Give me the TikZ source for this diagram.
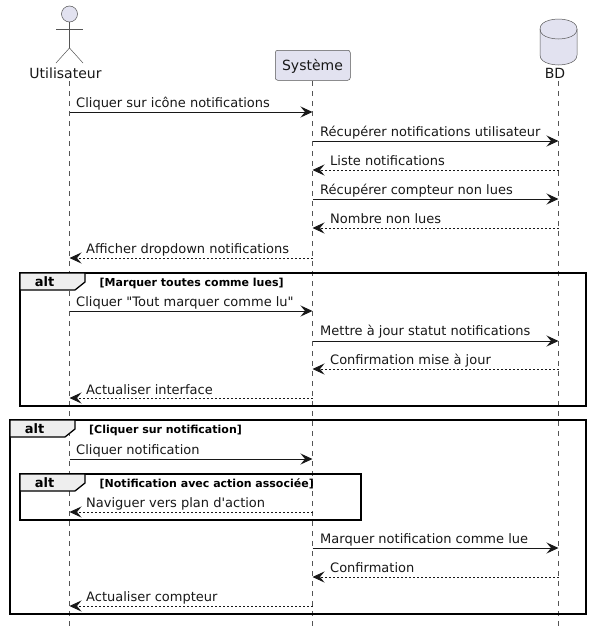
\documentclass[tikz,border=0pt]{standalone}
\usepackage{fontspec}
\setmainfont[Ligatures=TeXOff]{DejaVu Sans}
\usetikzlibrary{arrows.meta,calc}
\definecolor{part}{HTML}{E2E2F0}
\definecolor{ink}{HTML}{181818}
\definecolor{soft}{HTML}{555555}
\definecolor{tab}{HTML}{EEEEEE}
\tikzset{
  x=1pt,y=-1pt,
  partline/.style={draw=soft,line width=0.5pt,fill=part},
  actorline/.style={draw=soft,line width=0.5pt},
  lifeline/.style={draw=soft,line width=0.5pt,dash pattern=on 5pt off 5pt},
  solidmsg/.style={draw=ink,line width=1pt,-{Stealth[length=12pt,width=11pt,inset=4.5pt]}},
  dashmsg/.style={draw=ink,line width=0.8pt,dash pattern=on 2pt off 2pt,-{Stealth[length=12pt,width=11pt,inset=4.5pt]}},
  msgtext/.style={font=\fontsize{13}{15}\selectfont,text=ink,inner sep=0pt,anchor=base west},
  parttext/.style={font=\fontsize{14}{16}\selectfont,text=ink,inner sep=0pt,anchor=base},
  framebox/.style={draw=black,line width=1.5pt},
  tabbox/.style={draw=black,line width=1.3pt,fill=tab},
  alttext/.style={font=\fontsize{13}{15}\selectfont\bfseries,text=black,inner sep=0pt,anchor=base},
  condtext/.style={font=\fontsize{11}{13}\selectfont\bfseries,text=black,inner sep=0pt,anchor=base west},
}
\begin{document}
\begin{tikzpicture}
\useasboundingbox (0,0) rectangle (592,637);
\fill[white] (0,0) rectangle (592,637);
% lifeline ends
\coordinate (uT) at (69.5,81); \coordinate (uB) at (69.5,627);
\coordinate (sT) at (312.5,81); \coordinate (sB) at (312.5,627);
\coordinate (dT) at (558.5,81); \coordinate (dB) at (558.5,627);
\draw[lifeline] (uT) -- (uB);
\draw[lifeline] (sT) -- (sB);
\draw[lifeline] (dT) -- (dB);
% actor
\node[partline,circle,minimum size=16pt,inner sep=0pt] (head) at (69.5,14) {};
\draw[actorline] (head.south) -- (69.5,48) coordinate (hip);
\draw[actorline] (56,29) -- (83,29);
\draw[actorline] (56,63) -- (hip) -- (83,63);
\node[parttext] (ulabel) at (65.5,78) {Utilisateur};
% system
\node[partline,rounded corners=2.5pt,minimum width=75pt,minimum height=30pt,inner sep=0pt,anchor=north west] (sys) at (275,50) {};
\node[parttext] (slabel) at (312.5,70) {Système};
% database
\path[partline] (540,29) .. controls (540,19) and (558.5,19) .. (558.5,19) .. controls (558.5,19) and (577,19) .. (577,29)
  -- (577,55) .. controls (577,65) and (558.5,65) .. (558.5,65) .. controls (558.5,65) and (540,65) .. (540,55) -- cycle;
\draw[actorline] (540,29) .. controls (540,39) and (558.5,39) .. (558.5,39) .. controls (558.5,39) and (577,39) .. (577,29);
\node[parttext] (dlabel) at (555,78) {BD};
% frames
\draw[framebox] (20,273) rectangle (586,406);
\path[tabbox] (20,273) -- (85,273) -- (85,282) -- (75,290) -- (20,290) -- cycle;
\node[alttext] (a1) at (44.5,286) {alt};
\node[condtext] (c1) at (99.5,286) {[Marquer toutes comme lues]};
\draw[framebox] (10,420) rectangle (586,614);
\path[tabbox] (10,420) -- (75,420) -- (75,429) -- (65,437) -- (10,437) -- cycle;
\node[alttext] (a2) at (34.5,433) {alt};
\node[condtext] (c2) at (89,433) {[Cliquer sur notification]};
\draw[framebox] (20,474) rectangle (361,520);
\path[tabbox] (20,474) -- (85,474) -- (85,483) -- (75,491) -- (20,491) -- cycle;
\node[alttext] (a3) at (44.5,487) {alt};
\node[condtext] (c3) at (99.5,487) {[Notification avec action associée]};
% messages
\draw[solidmsg] (uT |- 0,112) -- (sT |- 0,112);
\node[msgtext] (m1) at (76,107.5) {Cliquer sur icône notifications};
\draw[solidmsg] (sT |- 0,141) -- (dT |- 0,141);
\node[msgtext] (m2) at (320,136.5) {Récupérer notifications utilisateur};
\draw[dashmsg] (dT |- 0,170) -- (sT |- 0,170);
\node[msgtext] (m3) at (330,165.5) {Liste notifications};
\draw[solidmsg] (sT |- 0,199) -- (dT |- 0,199);
\node[msgtext] (m4) at (320,194.5) {Récupérer compteur non lues};
\draw[dashmsg] (dT |- 0,228) -- (sT |- 0,228);
\node[msgtext] (m5) at (330,223.5) {Nombre non lues};
\draw[dashmsg] (sT |- 0,258) -- (uT |- 0,258);
\node[msgtext] (m6) at (86,253) {Afficher dropdown notifications};
\draw[solidmsg] (uT |- 0,311) -- (sT |- 0,311);
\node[msgtext] (m7) at (76,306.5) {Cliquer "Tout marquer comme lu"};
\draw[solidmsg] (sT |- 0,341) -- (dT |- 0,341);
\node[msgtext] (m8) at (320,335.5) {Mettre à jour statut notifications};
\draw[dashmsg] (dT |- 0,369) -- (sT |- 0,369);
\node[msgtext] (m9) at (330,364) {Confirmation mise à jour};
\draw[dashmsg] (sT |- 0,398) -- (uT |- 0,398);
\node[msgtext] (m10) at (86,394) {Actualiser interface};
\draw[solidmsg] (uT |- 0,459) -- (sT |- 0,459);
\node[msgtext] (m11) at (76,454.5) {Cliquer notification};
\draw[dashmsg] (sT |- 0,512) -- (uT |- 0,512);
\node[msgtext] (m12) at (86,507.5) {Naviguer vers plan d'action};
\draw[solidmsg] (sT |- 0,548) -- (dT |- 0,548);
\node[msgtext] (m13) at (320,543.5) {Marquer notification comme lue};
\draw[dashmsg] (dT |- 0,577) -- (sT |- 0,577);
\node[msgtext] (m14) at (330,572.5) {Confirmation};
\draw[dashmsg] (sT |- 0,606) -- (uT |- 0,606);
\node[msgtext] (m15) at (86,601.5) {Actualiser compteur};
\end{tikzpicture}
\end{document}
